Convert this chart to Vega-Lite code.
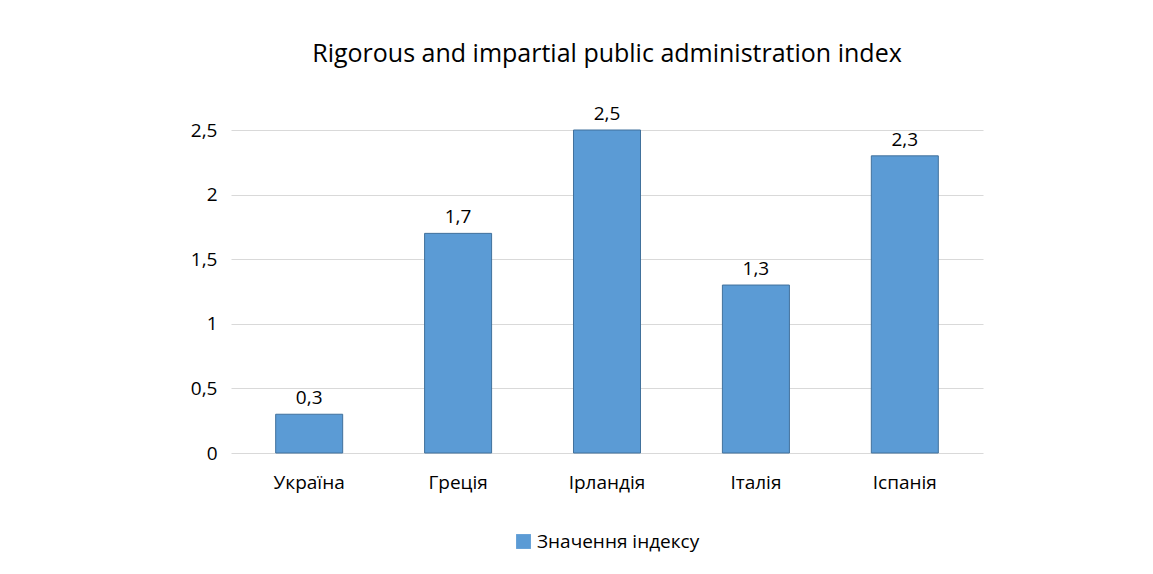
{
  "$schema": "https://vega.github.io/schema/vega-lite/v6.json",
  "width": 1153,
  "height": 574,
  "autosize": {"type": "fit", "contains": "padding"},
  "padding": {"left": 190, "right": 170, "top": 42, "bottom": 22},
  "background": "white",
  "title": {
    "text": "Rigorous and impartial public administration index",
    "fontSize": 25,
    "font": "Open Sans",
    "fontWeight": "normal",
    "color": "#000000",
    "anchor": "middle",
    "offset": 38
  },
  "data": {
    "values": [
      {"country": "Україна", "value": 0.3, "series": "Значення індексу"},
      {"country": "Греція", "value": 1.7, "series": "Значення індексу"},
      {"country": "Ірландія", "value": 2.5, "series": "Значення індексу"},
      {"country": "Італія", "value": 1.3, "series": "Значення індексу"},
      {"country": "Іспанія", "value": 2.3, "series": "Значення індексу"}
    ]
  },
  "encoding": {
    "x": {
      "field": "country",
      "type": "nominal",
      "sort": null,
      "title": null,
      "scale": {"paddingInner": 0.55, "paddingOuter": 0.3},
      "axis": {"labelAngle": 0, "labelFontSize": 19, "labelFont": "Open Sans", "labelColor": "#000000", "domain": false, "ticks": false, "labelPadding": 20}
    },
    "y": {
      "field": "value",
      "type": "quantitative",
      "title": null,
      "scale": {"domain": [0, 2.5]},
      "axis": {"values": [0, 0.5, 1, 1.5, 2, 2.5], "format": ".1~f", "labelFontSize": 19, "labelFont": "Open Sans", "labelColor": "#000000", "domain": false, "ticks": false, "gridColor": "#d9d9d9", "labelPadding": 14}
    }
  },
  "layer": [
    {
      "mark": {"type": "bar", "color": "#5B9BD5", "stroke": "#41719C", "strokeWidth": 1},
      "encoding": {
        "color": {
          "field": "series",
          "type": "nominal",
          "scale": {"range": ["#5B9BD5"]},
          "legend": {"orient": "bottom", "title": null, "labelFontSize": 19, "labelFont": "Open Sans", "labelColor": "#000000", "labelLimit": 400, "symbolType": "square", "symbolSize": 220, "symbolStrokeWidth": 0, "offset": 40}
        }
      }
    },
    {
      "mark": {"type": "text", "dy": -16, "fontSize": 19, "font": "Open Sans", "color": "#000000"},
      "encoding": {"text": {"field": "value", "type": "quantitative", "format": ".1f"}}
    }
  ],
  "config": {
    "view": {"stroke": null},
    "legend": {"layout": {"bottom": {"anchor": "middle"}}},
    "locale": {"number": {"decimal": ",", "thousands": " ", "grouping": [3], "currency": ["", ""]}}
  }
}
